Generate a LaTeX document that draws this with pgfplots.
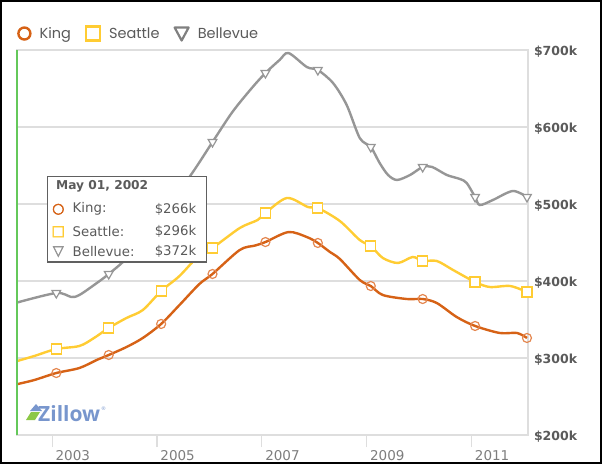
\documentclass[border=0pt]{standalone}
\usepackage{fontspec}
\setmainfont{DejaVu Sans}
\newfontfamily\legfont{Poppins}
\newfontfamily\zfont{Open Sans}
\newfontfamily\symfont[FakeBold=3]{DejaVu Sans}
\usepackage{pgfplots}
\pgfplotsset{compat=1.18}

\definecolor{kingc}{RGB}{214,98,22}
\definecolor{kingm}{RGB}{228,135,80}
\definecolor{seac}{RGB}{255,204,51}
\definecolor{belc}{RGB}{150,150,150}
\definecolor{gridc}{RGB}{222,222,222}
\definecolor{hoverc}{RGB}{100,200,90}
\definecolor{labc}{RGB}{90,90,90}
\definecolor{tickc}{RGB}{125,125,125}
\definecolor{zblue}{RGB}{120,150,205}
\definecolor{zgreen}{RGB}{140,200,70}

\begin{document}
\begin{tikzpicture}[x=1pt,y=1pt]
\useasboundingbox (0,0) rectangle (602,464);
\begin{axis}[
  at={(17pt,29pt)}, anchor=south west,
  scale only axis, width=511pt, height=385pt,
  xmin=2002.33, xmax=2012.08, ymin=200, ymax=700,
  axis line style={gridc, line width=1.2pt},
  ymajorgrids, major grid style={gridc, line width=1.2pt},
  ytick={200,300,400,500,600,700},
  yticklabels={\$200k,\$300k,\$400k,\$500k,\$600k,\$700k},
  yticklabel pos=right, ytick style={draw=none},
  yticklabel style={anchor=west, xshift=2.5pt, yshift=-2pt, text=labc,
    font=\bfseries\fontsize{12.5}{12.5}\selectfont},
  xtick={2003,2005,2007,2009,2011},
  xticklabels={2003,2005,2007,2009,2011},
  xtick pos=left, xtick align=outside, major tick length=12pt,
  xtick style={gridc, line width=1.2pt},
  xticklabel style={anchor=north west, xshift=0pt, text=tickc,
    font=\fontsize{13.5}{13.5}\selectfont},
  legend style={at={(axis description cs:0,1)}, anchor=south west,
    xshift=-3pt, yshift=6pt, draw=none, fill=none, text=labc,
    font=\legfont\fontsize{14.5}{14.5}\selectfont,
    /tikz/every odd column/.append style={column sep=6pt},
    /tikz/every even column/.append style={column sep=12pt}},
  legend columns=-1,
  clip=false,
]
% lines
\addplot[kingc, line width=2.4pt, smooth, tension=0.5, forget plot] coordinates {
(2002.33,266) (2002.66,271.4) (2003.08,280.5) (2003.52,287) (2003.85,297.4)
(2004.08,303.9) (2004.42,314.3) (2004.73,326) (2005.08,344.2) (2005.43,368.8)
(2005.81,396.1) (2006.06,409.1) (2006.58,440.3) (2006.87,446) (2007.07,450.6)
(2007.51,463.6) (2007.86,457.1) (2008.07,449.4) (2008.30,437.7) (2008.49,428.6)
(2008.87,401.3) (2009.08,393.5) (2009.31,381.8) (2009.77,376.6) (2010.07,376.6)
(2010.34,371.4) (2010.72,353.2) (2011.07,341.6) (2011.54,332.5) (2011.87,332.5)
(2012.06,326)};
\addplot[seac, line width=2.4pt, smooth, tension=0.5, forget plot] coordinates {
(2002.33,296) (2002.66,302.6) (2003.08,311.7) (2003.52,315.6) (2003.80,326)
(2004.08,339) (2004.42,352) (2004.73,362.3) (2005.08,387) (2005.43,406.5)
(2005.81,433.8) (2006.06,442.9) (2006.58,468.8) (2006.92,479.2) (2007.07,488.3)
(2007.48,507.8) (2007.88,496.1) (2008.07,494.8) (2008.49,477.9) (2008.87,453.2)
(2009.08,445.5) (2009.31,429.9) (2009.60,423.4) (2009.88,431.2) (2010.07,426)
(2010.34,426) (2010.65,414.3) (2011.07,398.7) (2011.35,392.2) (2011.74,393.5)
(2012.06,385.7)};
\addplot[belc, line width=2.4pt, smooth, tension=0.5, forget plot] coordinates {
(2002.33,372) (2003.08,384.4) (2003.37,379.2) (2003.52,381.8) (2003.80,394.8)
(2004.08,409.1) (2004.48,433.8) (2005.05,485.7) (2005.62,535.1) (2006.06,580.5)
(2006.44,619.5) (2006.81,650.6) (2007.07,670.1) (2007.34,687) (2007.51,696.1)
(2007.86,677.9) (2008.07,674) (2008.36,657.1) (2008.62,628.6) (2008.87,585.7)
(2009.08,574) (2009.25,553.2) (2009.41,537.7) (2009.58,531.2) (2009.83,537.7)
(2010.07,548.1) (2010.25,548.1) (2010.53,537.7) (2010.78,532.5) (2010.91,527.3)
(2011.07,509.1) (2011.16,498.7) (2011.41,505.2) (2011.79,516.9) (2012.06,509.1)};
% yearly markers
\addplot[only marks, mark=o, mark size=4.5pt, kingm, line width=1.2pt,
  mark options={fill=white},
  legend image code/.code={\draw[kingc, line width=2.4pt] (7pt,0pt) circle (6pt);}]
  coordinates {
(2003.08,280.5) (2004.08,303.9) (2005.08,344.2) (2006.06,409.1) (2007.07,450.6)
(2008.07,449.4) (2009.08,393.5) (2010.07,376.6) (2011.07,341.6) (2012.06,326)};
\addlegendentry{King}
\addplot[only marks, mark=square*, mark size=5pt, seac, line width=1.2pt,
  mark options={fill=white},
  legend image code/.code={\draw[seac, line width=2.2pt] (0pt,-7pt) rectangle (14pt,7pt);}]
  coordinates {
(2003.08,311.7) (2004.08,339) (2005.08,387) (2006.06,442.9) (2007.07,488.3)
(2008.07,494.8) (2009.08,445.5) (2010.07,426) (2011.07,398.7) (2012.06,385.7)};
\addlegendentry{Seattle}
\addplot[only marks, mark=triangle*, mark size=5pt, belc, line width=1.2pt,
  mark options={fill=white, rotate=180},
  legend image code/.code={\draw[belc!85!black, line width=2.2pt, line join=round] (0pt,6pt) -- (14pt,6pt) -- (7pt,-7pt) -- cycle;}]
  coordinates {
(2003.08,384.4) (2004.08,409.1) (2005.08,489) (2006.06,580.5) (2007.07,670.1)
(2008.07,674) (2009.08,574) (2010.07,548.1) (2011.07,509.1) (2012.06,509.1)};
\addlegendentry{Bellevue}
% hover line
\draw[hoverc, line width=1.8pt] (rel axis cs:0,0) -- (rel axis cs:0,1);
\end{axis}

% tooltip
\draw[fill=white, draw=gray!75!black, line width=1.3pt] (47.5,202) rectangle (206.5,287.5);
\node[anchor=west, inner sep=0pt, text=labc, font=\bfseries\fontsize{12.2}{12.5}\selectfont] at (56,277.3) {May 01, 2002};
\node[inner sep=0pt, text=kingc, font=\symfont\fontsize{14}{14}\selectfont] at (58.3,254.7) {○};
\node[inner sep=0pt, text=seac, font=\symfont\fontsize{14}{14}\selectfont] at (58.3,232.3) {□};
\node[inner sep=0pt, text=belc, font=\symfont\fontsize{14}{14}\selectfont] at (58.3,212.3) {▽};
\begin{scope}[every node/.style={inner sep=0pt, text=labc, font=\fontsize{13.3}{13.5}\selectfont}]
\node[anchor=west] at (72.5,254.7) {King:};
\node[anchor=west] at (72.5,232.3) {Seattle:};
\node[anchor=west] at (72.5,212.3) {Bellevue:};
\node[anchor=east] at (196.5,254.7) {\$266k};
\node[anchor=east] at (196.5,232.3) {\$296k};
\node[anchor=east] at (196.5,212.3) {\$372k};
\end{scope}

% Zillow logo
\fill[zgreen] (26,44) -- (35,44) -- (40,52) -- (31,52) -- cycle;
\fill[zblue] (30,53) -- (36,60) -- (42,53) -- cycle;
\node[anchor=west, inner sep=0pt, text=zblue, font=\zfont\bfseries\fontsize{21}{21}\selectfont] (zl) at (38,50) {Zillow};
\node[anchor=south west, inner sep=0pt, text=zblue, font=\fontsize{5}{5}\selectfont] at ([xshift=0.5pt,yshift=-5pt]zl.north east) {®};

% outer frame
\draw[black, line width=2pt] (1,1) rectangle (601,463);
\end{tikzpicture}
\end{document}
